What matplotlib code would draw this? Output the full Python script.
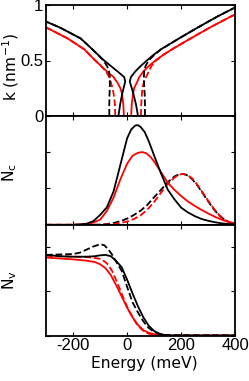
import matplotlib
matplotlib.use("Agg")
import matplotlib.pyplot as plt

plt.rcParams["axes.unicode_minus"] = False

# ---------------- top panel: k vs energy (valence / conduction branches)
k_grid = [0, 0.1, 0.2, 0.25, 0.3, 0.31, 0.35, 0.4, 0.45, 0.5, 0.55, 0.6, 0.7, 0.8, 0.9, 1.0]
E_black_solid_c = [40, 33, 23, 17, 11, 10, 14, 30, 50, 73, 97, 124, 192, 262, 335, 415]
E_black_solid_v = [-32, -26, -18, -13, -8, -7, -11, -35, -60, -85, -107, -128, -172, -250, -345, -440]
E_red_solid_c = [15, 17, 22, 26, 36, 38, 45, 60, 80, 105, 133, 165, 235, 307, 385, 470]
E_red_solid_v = [-12, -14, -19, -25, -36, -39, -50, -75, -96, -118, -138, -158, -220, -300, -390, -480]
E_black_dash_c = [66, 66, 65, 63, 63, 62, 62, 63, 68, 80, 100, 125, 192, 262, 335, 415]
E_black_dash_v = [-66, -66, -65, -64, -64, -64, -64, -67, -74, -88, -107, -128, -172, -250, -345, -440]
E_red_dash_c = [51, 52, 55, 56, 62, 63, 70, 80, 90, 107, 133, 165, 235, 307, 385, 470]
E_red_dash_v = [-44, -45, -50, -54, -60, -61, -66, -78, -96, -118, -138, -158, -220, -300, -390, -480]

# ---------------- middle panel: N_c
E_nc_bs = [-300, -200, -175, -150, -125, -100, -75, -50, -25, 0, 15, 30, 40, 50, 65, 80, 100, 125, 150, 175, 200, 225, 250, 275, 300, 325, 350, 375, 400]
nc_bs = [0, 0, 0.01, 0.03, 0.10, 0.27, 0.48, 0.92, 1.65, 2.38, 2.62, 2.73, 2.74, 2.69, 2.55, 2.30, 1.90, 1.42, 0.97, 0.70, 0.47, 0.34, 0.24, 0.16, 0.11, 0.07, 0.04, 0.02, 0.01]
E_nc_rs = [-300, -200, -175, -150, -125, -100, -75, -50, -25, 0, 20, 40, 55, 70, 85, 100, 125, 150, 175, 200, 225, 250, 275, 300, 325, 350, 375, 400]
nc_rs = [0, 0, 0.01, 0.02, 0.06, 0.14, 0.38, 0.75, 1.25, 1.68, 1.90, 1.98, 2.00, 1.97, 1.88, 1.74, 1.45, 1.16, 0.96, 0.79, 0.64, 0.52, 0.41, 0.31, 0.22, 0.14, 0.08, 0.04]
E_nc_d = [-300, -150, -100, -75, -50, -25, 0, 25, 50, 75, 100, 125, 150, 175, 190, 205, 220, 240, 260, 280, 300, 320, 340, 360, 380, 400]
nc_bd = [0, 0, 0.005, 0.02, 0.05, 0.10, 0.17, 0.27, 0.39, 0.55, 0.76, 0.96, 1.17, 1.33, 1.38, 1.40, 1.37, 1.26, 1.08, 0.86, 0.64, 0.43, 0.26, 0.14, 0.06, 0.02]
nc_rd = [0, 0, 0.0, 0.01, 0.02, 0.05, 0.09, 0.16, 0.26, 0.42, 0.63, 0.88, 1.12, 1.30, 1.37, 1.40, 1.38, 1.28, 1.10, 0.88, 0.66, 0.45, 0.27, 0.14, 0.06, 0.02]

# ---------------- bottom panel: N_v
E_nv_bs = [-300, -250, -200, -150, -120, -100, -80, -60, -40, -20, 0, 20, 40, 60, 80, 100, 120, 140, 160, 400]
nv_bs = [1.82, 1.79, 1.78, 1.78, 1.79, 1.81, 1.82, 1.79, 1.68, 1.54, 1.26, 0.95, 0.66, 0.41, 0.22, 0.10, 0.04, 0.01, 0.0, 0.0]
E_nv_bd = [-300, -250, -200, -175, -150, -125, -100, -85, -70, -55, -40, -20, 0, 20, 40, 60, 80, 100, 120, 140, 400]
nv_bd = [1.82, 1.83, 1.84, 1.87, 1.94, 2.01, 2.06, 2.04, 1.95, 1.82, 1.66, 1.46, 1.10, 0.75, 0.52, 0.32, 0.17, 0.08, 0.03, 0.01, 0.0]
E_nv_rs = [-300, -250, -200, -150, -120, -100, -80, -60, -40, -20, 0, 20, 40, 60, 80, 100, 130, 160, 400]
nv_rs = [1.76, 1.74, 1.72, 1.69, 1.66, 1.61, 1.52, 1.36, 1.13, 0.88, 0.63, 0.41, 0.24, 0.12, 0.06, 0.03, 0.01, 0.0, 0.0]
E_nv_rd = [-300, -250, -200, -150, -120, -100, -85, -70, -55, -40, -25, -10, 5, 20, 35, 50, 65, 80, 100, 130, 400]
nv_rd = [1.80, 1.79, 1.78, 1.77, 1.75, 1.73, 1.68, 1.60, 1.45, 1.24, 1.02, 0.79, 0.58, 0.42, 0.26, 0.16, 0.08, 0.04, 0.01, 0.0, 0.0]

x_ticks = [-200, 0, 200, 400]
x_tick_labels = ["-200", "0", "200", "400"]

W, H = 249, 381
fig = plt.figure(figsize=(W / 100, H / 100), dpi=100)


def rect(top, bottom, left=46, right=235.3):
    return [left / W, 1 - bottom / H, (right - left) / W, (bottom - top) / H]


ax1 = fig.add_axes(rect(5.3, 115.7))
ax2 = fig.add_axes(rect(115.7, 224.8))
ax3 = fig.add_axes(rect(224.8, 335.5))

lw = 1.3
RED = "#ff0000"
tick_font = dict(family=["Liberation Sans Narrow", "Liberation Sans", "DejaVu Sans"], size=12)

# top
ax1.plot(E_red_dash_v, k_grid, color=RED, ls="--", lw=lw)
ax1.plot(E_red_dash_c, k_grid, color=RED, ls="--", lw=lw)
ax1.plot(E_red_solid_v, k_grid, color=RED, lw=lw)
ax1.plot(E_red_solid_c, k_grid, color=RED, lw=lw)
ax1.plot(E_black_dash_v, k_grid, color="black", ls="--", lw=lw)
ax1.plot(E_black_dash_c, k_grid, color="black", ls="--", lw=lw)
ax1.plot(E_black_solid_v, k_grid, color="black", lw=lw)
ax1.plot(E_black_solid_c, k_grid, color="black", lw=lw)
ax1.set_ylim(0, 1)
ax1.set_yticks([0, 0.5, 1])
ax1.set_yticklabels(["0", "0.5", "1"], **tick_font)

# middle
ax2.plot(E_nc_d, nc_bd, color="black", ls="--", lw=lw)
ax2.plot(E_nc_d, nc_rd, color=RED, ls="--", lw=lw)
ax2.plot(E_nc_rs, nc_rs, color=RED, lw=lw)
ax2.plot(E_nc_bs, nc_bs, color="black", lw=lw)
ax2.set_ylim(0, 3)
ax2.set_yticks([0, 1, 2, 3])
ax2.set_yticklabels([])

# bottom
ax3.plot(E_nv_rd, nv_rd, color=RED, ls="--", lw=lw)
ax3.plot(E_nv_rs, nv_rs, color=RED, lw=lw)
ax3.plot(E_nv_bd, nv_bd, color="black", ls="--", lw=lw)
ax3.plot(E_nv_bs, nv_bs, color="black", lw=lw)
ax3.set_ylim(0, 2.5)
ax3.set_yticks([0, 1, 2])
ax3.set_yticklabels([])

for ax in (ax1, ax2, ax3):
    ax.set_xlim(-300, 400)
    ax.set_xticks(x_ticks)
    ax.tick_params(direction="in", top=True, right=True, length=3, width=0.8, pad=2)
    for s in ax.spines.values():
        s.set_linewidth(1.3)
for ax in (ax1, ax2):
    ax.set_xticklabels([])
ax3.set_xticklabels(x_tick_labels, **tick_font)

lab_font = dict(family="DejaVu Sans", size=11.2)
fig.text(11 / W, 1 - 66.5 / H, "k (nm$^{-1}$)", rotation=90, ha="center", va="center", **lab_font)
fig.text(10 / W, 1 - 172 / H, "N$_{\\rm c}$", rotation=90, ha="center", va="center", **lab_font)
fig.text(10 / W, 1 - 280 / H, "N$_{\\rm v}$", rotation=90, ha="center", va="center", **lab_font)
fig.text(144.5 / W, 1 - 368.3 / H, "Energy (meV)", ha="center", va="baseline", **lab_font)

fig.savefig("out.png", dpi=100)
